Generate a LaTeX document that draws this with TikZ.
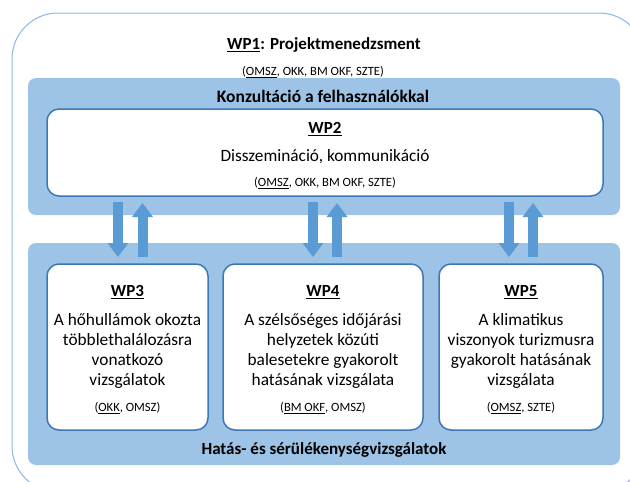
\documentclass[tikz,border=0pt]{standalone}
\usepackage{fontspec}
\setmainfont{Carlito}
\usetikzlibrary{arrows.meta}
\definecolor{outerline}{HTML}{8EB4E3}
\definecolor{bandfill}{HTML}{9DC3E6}
\definecolor{boxline}{HTML}{3C78B4}
\definecolor{arrowfill}{HTML}{5B9BD5}
\begin{document}
\begin{tikzpicture}
[x=1pt, y=-1pt, font=\fontsize{17}{20}\selectfont]
\tikzstyle{outerframe}=[rectangle, draw=outerline, line width=1pt, rounded corners=46pt, inner sep=0pt]
\tikzstyle{band}=[rectangle, fill=bandfill, rounded corners=8pt, inner sep=0pt]
\tikzstyle{wpbox}=[rectangle, draw=boxline, line width=1.5pt, fill=white, rounded corners=12pt, inner sep=0pt]
\tikzstyle{heading}=[font=\fontsize{17}{20}\selectfont\bfseries]
\tikzstyle{bandtitle}=[font=\fontsize{17.5}{20}\selectfont\bfseries]
\tikzstyle{body}=[align=center, font=\fontsize{17.3}{20.3}\selectfont]
\tikzstyle{partner}=[font=\fontsize{12.6}{14}\selectfont]
\tikzstyle{flow}=[draw=arrowfill, line width=10pt, -{Triangle[width=20pt, length=14pt]}]

\useasboundingbox (0,0) rectangle (630,482);

\node[outerframe, minimum width=633pt, minimum height=479pt]	(wp1frame)	at (328.5,252.5)	{};
\node[band, minimum width=592pt, minimum height=137pt]	(consult)	at (324,146.5)	{};
\node[band, minimum width=592pt, minimum height=222pt]	(impact)	at (324,354)	{};

\node[wpbox, minimum width=556pt, minimum height=87pt]	(wp2)	at (325,152.5)	{};
\node[wpbox, minimum width=161pt, minimum height=166pt]	(wp3)	at (127.5,347)	{};
\node[wpbox, minimum width=200pt, minimum height=166pt]	(wp4)	at (323,347)	{};
\node[wpbox, minimum width=164pt, minimum height=166pt]	(wp5)	at (521,347)	{};

\node[heading]	(wp1title)	at (324,45)	{\underline{WP1}: Projektmenedzsment};
\node[partner]	(wp1partners)	at (313,72)	{(\underline{OMSZ}, OKK, BM OKF, SZTE)};
\node[bandtitle]	(consulttitle)	at (323,96)	{Konzultáció a felhasználókkal};

\node[heading]	(wp2label)	at (325,129)	{\underline{WP2}};
\node[body]	(wp2text)	at (325,157)	{Disszemináció, kommunikáció};
\node[partner]	(wp2partners)	at (325,183)	{(\underline{OMSZ}, OKK, BM OKF, SZTE)};

\node[heading]	(wp3label)	at (127.5,292)	{\underline{WP3}};
\node[body]	(wp3text)	at (127.5,351)	{A hőhullámok okozta\\többlethalálozásra\\vonatkozó\\vizsgálatok};
\node[partner]	(wp3partners)	at (127.5,408)	{(\underline{OKK}, OMSZ)};

\node[heading]	(wp4label)	at (323,292)	{\underline{WP4}};
\node[body]	(wp4text)	at (323,351)	{A szélsőséges időjárási\\helyzetek közúti\\balesetekre gyakorolt\\hatásának vizsgálata};
\node[partner]	(wp4partners)	at (323,408)	{(\underline{BM OKF}, OMSZ)};

\node[heading]	(wp5label)	at (521,292)	{\underline{WP5}};
\node[body]	(wp5text)	at (521,351)	{A klimatikus\\viszonyok turizmusra\\gyakorolt hatásának\\vizsgálata};
\node[partner]	(wp5partners)	at (521,408)	{(\underline{OMSZ}, SZTE)};

\node[heading]	(impacttitle)	at (324,450)	{Hatás- és sérülékenységvizsgálatok};

\coordinate (down3top)	at (118,202);
\coordinate (down3end)	at (118,257);
\coordinate (up3end)	at (142.5,203);
\coordinate (up3foot)	at (142.5,257);
\coordinate (down4top)	at (313,202);
\coordinate (down4end)	at (313,257);
\coordinate (up4end)	at (337,203);
\coordinate (up4foot)	at (337,257);
\coordinate (down5top)	at (509,202);
\coordinate (down5end)	at (509,257);
\coordinate (up5end)	at (533,203);
\coordinate (up5foot)	at (533,257);

\draw [flow] (down3top)--(down3end);
\draw [flow] (up3foot)--(up3end);
\draw [flow] (down4top)--(down4end);
\draw [flow] (up4foot)--(up4end);
\draw [flow] (down5top)--(down5end);
\draw [flow] (up5foot)--(up5end);
\end{tikzpicture}
\end{document}
